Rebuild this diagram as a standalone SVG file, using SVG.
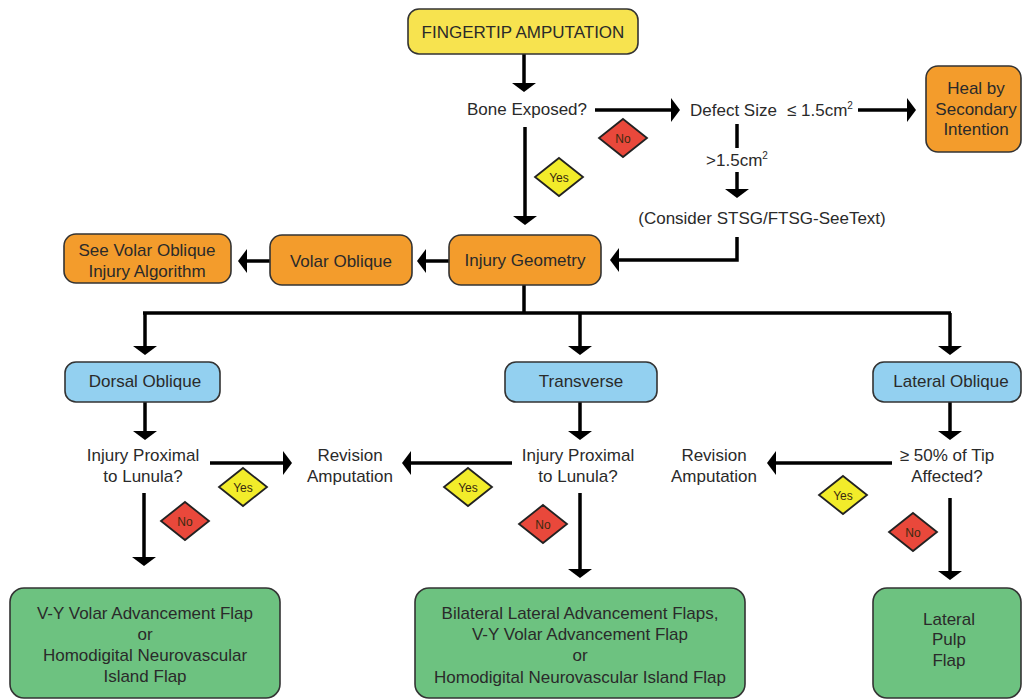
<svg xmlns="http://www.w3.org/2000/svg" width="1023" height="700" viewBox="0 0 1023 700">
<style>
  text { font-family: "Liberation Sans", Arial, sans-serif; font-size: 17px; fill: #2a2a2a; text-anchor: middle; }
  .box { stroke: #333; stroke-width: 1.6; }
  .yellowbox { fill: #f7e34f; }
  .orange { fill: #f39c2c; }
  .blue { fill: #93d0f0; }
  .green { fill: #6dc280; }
  .conn { fill: none; stroke: #000; stroke-width: 3.5; }
  .no { fill: #e9483b; stroke: #222; stroke-width: 1.8; }
  .yes { fill: #f2ec2a; stroke: #222; stroke-width: 1.8; }
  .dtext { font-size: 12px; fill: #3a2a10; }
  .sup { font-size: 10px; }
</style>
<defs>
  <marker id="ah" markerUnits="userSpaceOnUse" viewBox="0 0 9 24" refX="3" refY="12" markerWidth="9" markerHeight="24" orient="auto">
    <path d="M0,0 L9,12 L0,24 z" fill="#000"/>
  </marker>
  <polygon id="dia" points="0,-19 24,0 0,19 -24,0"/>
</defs>
<rect width="1023" height="700" fill="#fff"/>

<g id="connectors">
  <path class="conn" d="M524,54 V86" marker-end="url(#ah)"/>
  <path class="conn" d="M595,110 H674" marker-end="url(#ah)"/>
  <path class="conn" d="M858,110 H910" marker-end="url(#ah)"/>
  <path class="conn" d="M737,124 V148"/>
  <path class="conn" d="M737,172 V192" marker-end="url(#ah)"/>
  <path class="conn" d="M525,127 V219" marker-end="url(#ah)"/>
  <path class="conn" d="M737,237 V260 H616" marker-end="url(#ah)"/>
  <path class="conn" d="M449,261 H423" marker-end="url(#ah)"/>
  <path class="conn" d="M270,261 H244" marker-end="url(#ah)"/>
  <path class="conn" d="M524,285 V313"/>
  <path class="conn" d="M143,313 H951"/>
  <path class="conn" d="M145,313 V349" marker-end="url(#ah)"/>
  <path class="conn" d="M580,313 V349" marker-end="url(#ah)"/>
  <path class="conn" d="M950,313 V349" marker-end="url(#ah)"/>
  <path class="conn" d="M145,402 V434" marker-end="url(#ah)"/>
  <path class="conn" d="M210,463 H286" marker-end="url(#ah)"/>
  <path class="conn" d="M144,493 V560" marker-end="url(#ah)"/>
  <path class="conn" d="M580,402 V434" marker-end="url(#ah)"/>
  <path class="conn" d="M512,463 H408" marker-end="url(#ah)"/>
  <path class="conn" d="M580,493 V572" marker-end="url(#ah)"/>
  <path class="conn" d="M950,402 V434" marker-end="url(#ah)"/>
  <path class="conn" d="M892,463 H773" marker-end="url(#ah)"/>
  <path class="conn" d="M950,498 V574" marker-end="url(#ah)"/>
</g>

<g id="labels">
  <g id="no1"><use href="#dia" class="no" x="623" y="138"/><text class="dtext" x="623" y="142.5">No</text></g>
  <g id="yes1"><use href="#dia" class="yes" x="559" y="177"/><text class="dtext" x="559" y="181.5">Yes</text></g>
  <g id="yes2"><use href="#dia" class="yes" x="243" y="487"/><text class="dtext" x="243" y="491.5">Yes</text></g>
  <g id="no2"><use href="#dia" class="no" x="185" y="521"/><text class="dtext" x="185" y="525.5">No</text></g>
  <g id="yes3"><use href="#dia" class="yes" x="468" y="487"/><text class="dtext" x="468" y="491.5">Yes</text></g>
  <g id="no3"><use href="#dia" class="no" x="543" y="524"/><text class="dtext" x="543" y="528.5">No</text></g>
  <g id="yes4"><use href="#dia" class="yes" x="843" y="495"/><text class="dtext" x="843" y="499.5">Yes</text></g>
  <g id="no4"><use href="#dia" class="no" x="913" y="532"/><text class="dtext" x="913" y="536.5">No</text></g>
  <text x="737" y="166">&gt;1.5cm<tspan class="sup" dy="-7">2</tspan></text>
</g>

<g id="fingertip"><rect class="box yellowbox" x="408" y="9" width="230" height="45" rx="11"/><text x="523" y="38">FINGERTIP AMPUTATION</text></g>
<g id="bone"><text x="527" y="115">Bone Exposed?</text></g>
<g id="defect"><text x="690" y="116" style="text-anchor:start">Defect Size</text><text x="787" y="116" style="text-anchor:start">≤ 1.5cm<tspan class="sup" dy="-7">2</tspan></text></g>
<g id="heal"><rect class="box orange" x="926" y="66" width="95" height="86" rx="12"/><text x="976" y="94">Heal by</text><text x="976" y="115">Secondary</text><text x="976" y="135">Intention</text></g>
<g id="consider"><text x="762" y="224">(Consider STSG/FTSG-SeeText)</text></g>
<g id="injury"><rect class="box orange" x="449" y="235" width="152" height="50" rx="12"/><text x="525" y="266">Injury Geometry</text></g>
<g id="volar"><rect class="box orange" x="270" y="235" width="142" height="50" rx="12"/><text x="341" y="267">Volar Oblique</text></g>
<g id="seevolar"><rect class="box orange" x="64" y="234" width="167" height="49" rx="12"/><text x="147" y="256">See Volar Oblique</text><text x="147" y="277">Injury Algorithm</text></g>

<g id="dorsal"><rect class="box blue" x="65" y="362" width="155" height="40" rx="11"/><text x="145" y="387">Dorsal Oblique</text></g>
<g id="transverse"><rect class="box blue" x="505" y="362" width="152" height="40" rx="11"/><text x="581" y="387">Transverse</text></g>
<g id="lateral"><rect class="box blue" x="873" y="362" width="148" height="40" rx="11"/><text x="951" y="387">Lateral Oblique</text></g>

<g id="q1"><text x="143" y="461">Injury Proximal</text><text x="143" y="482">to Lunula?</text></g>
<g id="rev1"><text x="350" y="461">Revision</text><text x="350" y="482">Amputation</text></g>
<g id="q2"><text x="578" y="461">Injury Proximal</text><text x="578" y="482">to Lunula?</text></g>
<g id="rev2"><text x="714" y="461">Revision</text><text x="714" y="482">Amputation</text></g>
<g id="q3"><text x="947" y="461">≥ 50% of Tip</text><text x="947" y="482">Affected?</text></g>

<g id="flap1"><rect class="box green" x="10" y="588" width="270" height="110" rx="14"/><text x="145" y="619">V-Y Volar Advancement Flap</text><text x="145" y="640">or</text><text x="145" y="661">Homodigital Neurovascular</text><text x="145" y="682">Island Flap</text></g>
<g id="flap2"><rect class="box green" x="415" y="588" width="330" height="110" rx="14"/><text x="580" y="619">Bilateral Lateral Advancement Flaps,</text><text x="580" y="640">V-Y Volar Advancement Flap</text><text x="580" y="661">or</text><text x="580" y="683">Homodigital Neurovascular Island Flap</text></g>
<g id="flap3"><rect class="box green" x="873" y="588" width="148" height="110" rx="14"/><text x="949" y="625">Lateral</text><text x="949" y="645">Pulp</text><text x="949" y="666">Flap</text></g>
</svg>
